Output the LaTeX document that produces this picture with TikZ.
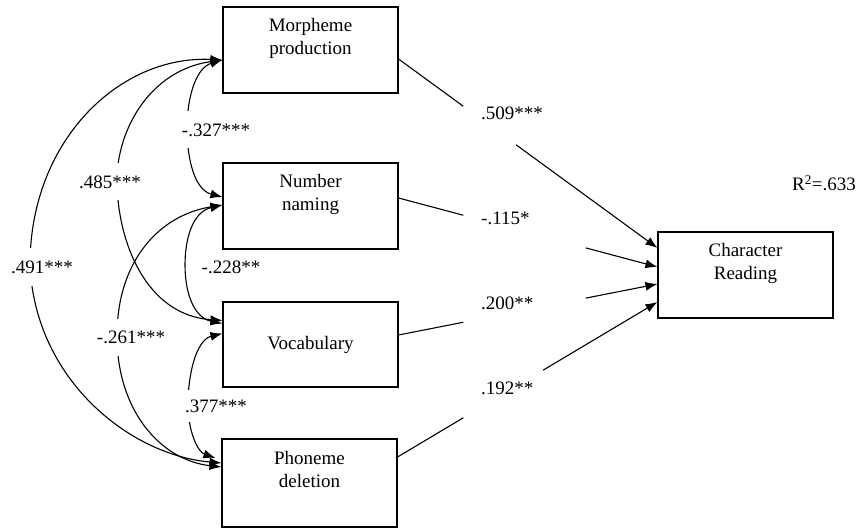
\documentclass[tikz,border=0pt]{standalone}
\usepackage{fontspec}
\setmainfont{Liberation Serif}
\usetikzlibrary{arrows.meta,calc}
\begin{document}
\begin{tikzpicture}[x=1pt,y=-1pt,
  txt/.style={font=\fontsize{19}{23}\selectfont},
  varbox/.style={txt,draw,line width=1.1pt,minimum width=175pt,minimum height=86pt,align=center,inner sep=0pt},
  link/.style={line width=1.1pt},
  arr/.style={link,-{Latex[length=12pt,width=9pt]}},
  corr/.style={line width=1.1pt,{Latex[length=12pt,width=9pt]}-{Latex[length=12pt,width=9pt]}},
  corrlab/.style={txt,fill=white,inner sep=1pt,minimum height=37pt},
  coef/.style={txt,anchor=west,inner sep=0pt}]
\useasboundingbox (0,0) rectangle (856,529);

% predictor and outcome boxes
\node[varbox] (mp) at (310.5,50) {\strut Morpheme\\\strut production\\\strut};
\node[varbox] (nn) at (310.5,206) {\strut Number\\\strut naming\\\strut};
\node[varbox,minimum height=85pt] (vo) at (310.5,344.5) {Vocabulary};
\node[varbox,minimum height=88pt] (pd) at (309.5,483) {\strut Phoneme\\\strut deletion\\\strut};
\node[varbox] (cr) at (745.5,275) {\strut Character\\\strut Reading\\\strut};
\node[txt] (rsq) at (824,183) {R\textsuperscript{2}=.633};

% attachment points on the right of the predictors
\coordinate (mpO) at ([yshift=-9pt]mp.east);
\coordinate (nnO) at ([yshift=8pt]nn.east);
\coordinate (voO) at ([yshift=9.5pt]vo.east);
\coordinate (pdO) at ([yshift=26pt]pd.east);
% attachment points on the outcome box
\coordinate (crA) at ([yshift=27pt]cr.west);
\coordinate (crB) at ([yshift=8pt]cr.west);
\coordinate (crC) at ([yshift=-9pt]cr.west);
\coordinate (crD) at ([yshift=-27pt]cr.west);

% regression paths, broken where the coefficient sits
\draw[link] (mpO) -- ($(mpO)!0.25!(crA)$);
\draw[arr] ($(mpO)!0.454!(crA)$) -- (crA);
\draw[link] (nnO) -- ($(nnO)!0.25!(crB)$);
\draw[arr] ($(nnO)!0.723!(crB)$) -- (crB);
\draw[link] (voO) -- ($(voO)!0.25!(crC)$);
\draw[arr] ($(voO)!0.723!(crC)$) -- (crC);
\draw[link] (pdO) -- ($(pdO)!0.253!(crD)$);
\draw[arr] ($(pdO)!0.56!(crD)$) -- (crD);

\node[coef] (b1) at (481,113) {.509***};
\node[coef] (b2) at (481,218) {-.115*};
\node[coef] (b3) at (481,303) {.200**};
\node[coef] (b4) at (481,388) {.192**};

% attachment points on the left of the predictors
\coordinate (mpL) at ([yshift=-10pt]mp.west);
\coordinate (nnL1) at ([yshift=9pt]nn.west);
\coordinate (nnL2) at ([yshift=1pt]nn.west);
\coordinate (voL1) at ([yshift=24pt]vo.west);
\coordinate (voL2) at ([yshift=21pt]vo.west);
\coordinate (voL3) at ([yshift=11pt]vo.west);
\coordinate (pdL1) at ([xshift=-6pt,yshift=25pt]pd.west);
\coordinate (pdL2) at ([yshift=20pt]pd.west);
\coordinate (pdL3) at ([yshift=16pt]pd.west);

% correlations among predictors
\draw[corr] (mpL) .. controls (120,55) and (30,140) .. (30,265)
  .. controls (35,380) and (130,455) .. (pdL2);
\draw[corr] (mpL) .. controls (150,70) and (117,130) .. (117,180)
  .. controls (117,240) and (145,315) .. (voL1);
\draw[corr] (nnL2) .. controls (160,215) and (117,260) .. (117,336)
  .. controls (117,410) and (160,460) .. (pdL3);
\draw[corr] (mpL) .. controls (195,68) and (187,100) .. (187,128)
  .. controls (187,160) and (195,190) .. (nnL1);
\draw[corr] (nnL2) .. controls (192,212) and (185,240) .. (185,265)
  .. controls (185,295) and (195,318) .. (voL2);
\draw[corr] (voL3) .. controls (196,340) and (188,375) .. (188,404)
  .. controls (188,432) and (198,452) .. (pdL1);

\node[corrlab] (c1) at (42,267) {.491***};
\node[corrlab] (c2) at (110,182) {.485***};
\node[corrlab] (c3) at (131,337) {-.261***};
\node[corrlab] (c4) at (216,130) {-.327***};
\node[txt] (c5) at (231,267) {-.228**};
\node[corrlab,minimum height=32pt] (c6) at (216,406) {.377***};
\end{tikzpicture}
\end{document}
